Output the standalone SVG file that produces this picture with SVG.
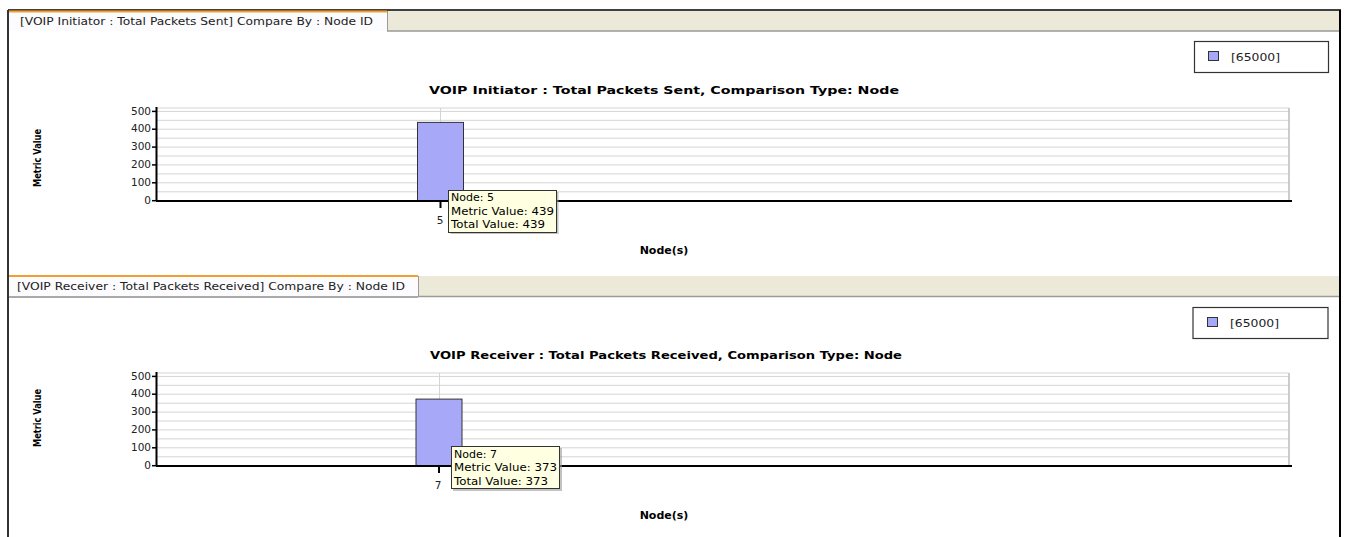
<svg xmlns="http://www.w3.org/2000/svg" width="1352" height="537" viewBox="0 0 1352 537">
<style>
.tabtxt{font-family:"DejaVu Sans","Liberation Sans",sans-serif;font-size:11px;fill:#222}
.title{font-family:"DejaVu Sans","Liberation Sans",sans-serif;font-size:11px;font-weight:bold;fill:#000}
.axl{font-family:"DejaVu Sans","Liberation Sans",sans-serif;font-size:11px;font-weight:bold;fill:#000}
.tick{font-family:"DejaVu Sans","Liberation Sans",sans-serif;font-size:10.5px;fill:#222}
.leg{font-family:"DejaVu Sans","Liberation Sans",sans-serif;font-size:11px;fill:#222}
.tip{font-family:"DejaVu Sans","Liberation Sans",sans-serif;font-size:11px;fill:#000}
.grid{stroke:#d4d4d4;stroke-width:1;fill:none}
.axis{stroke:#000;stroke-width:2;fill:none}
.bar{fill:#a8a8f8;stroke:#333;stroke-width:1}
.tipbox{fill:#ffffe1;stroke:#333;stroke-width:1}
.shadow{fill:#999;opacity:0.6}
.legend{fill:#fff;stroke:#333;stroke-width:1.2}
.tabbar{fill:#ece9d8}
</style>
<rect x="0" y="0" width="1352" height="537" fill="#fff"/>
<!-- frame -->
<line x1="8" y1="10" x2="1341" y2="10" stroke="#000" stroke-width="1.5"/>
<line x1="8" y1="10" x2="8" y2="537" stroke="#333" stroke-width="2"/>
<line x1="1340" y1="10" x2="1340" y2="537" stroke="#000" stroke-width="2"/>

<g id="panel1">
  <rect class="tabbar" x="387" y="11" width="952" height="20"/>
  <line x1="387" y1="31" x2="1339" y2="31" stroke="#9a9a9a" stroke-width="1.5"/>
  <rect x="9" y="11" width="378" height="20" fill="#fcfcfe"/>
  <line x1="9" y1="11.5" x2="387" y2="11.5" stroke="#f0a030" stroke-width="2"/>
  <line x1="387.5" y1="11" x2="387.5" y2="31" stroke="#9a9a9a" stroke-width="1"/>
  <text class="tabtxt" x="20" y="25" textLength="353" lengthAdjust="spacingAndGlyphs">[VOIP Initiator :  Total Packets Sent] Compare By : Node ID</text>
  <g id="legend1">
    <rect class="legend" x="1194.5" y="41.5" width="134" height="31"/>
    <rect class="bar" x="1208.5" y="51.5" width="10" height="9"/>
    <text class="leg" x="1231" y="61" textLength="49" lengthAdjust="spacingAndGlyphs">[65000]</text>
  </g>
  <text class="title" x="664" y="94" text-anchor="middle" textLength="470" lengthAdjust="spacingAndGlyphs">VOIP Initiator :  Total Packets Sent, Comparison Type: Node</text>
  <g id="chart1">
    <g class="grid">
      <line x1="157" y1="108" x2="1289" y2="108"/>
      <line x1="157" y1="111.4" x2="1289" y2="111.4"/>
      <line x1="157" y1="120.3" x2="1289" y2="120.3"/>
      <line x1="157" y1="129.2" x2="1289" y2="129.2"/>
      <line x1="157" y1="138.2" x2="1289" y2="138.2"/>
      <line x1="157" y1="147.1" x2="1289" y2="147.1"/>
      <line x1="157" y1="156" x2="1289" y2="156"/>
      <line x1="157" y1="164.9" x2="1289" y2="164.9"/>
      <line x1="157" y1="173.9" x2="1289" y2="173.9"/>
      <line x1="157" y1="182.8" x2="1289" y2="182.8"/>
      <line x1="157" y1="191.8" x2="1289" y2="191.8"/>
      <line x1="440.5" y1="108" x2="440.5" y2="200"/>
      <line x1="1289" y1="108" x2="1289" y2="200" stroke="#bbb" stroke-width="1.5"/>
    </g>
    <rect class="bar" x="417.5" y="122.4" width="46" height="78.3"/>
    <path class="axis" d="M156.5 107 V201 M156 201 H1292"/>
    <g stroke="#000" stroke-width="1.5">
      <line x1="152" y1="200.7" x2="156" y2="200.7"/>
      <line x1="152" y1="182.8" x2="156" y2="182.8"/>
      <line x1="152" y1="164.9" x2="156" y2="164.9"/>
      <line x1="152" y1="147.1" x2="156" y2="147.1"/>
      <line x1="152" y1="129.2" x2="156" y2="129.2"/>
      <line x1="152" y1="111.4" x2="156" y2="111.4"/>
      <line x1="440.5" y1="202" x2="440.5" y2="208" stroke-width="2"/>
    </g>
    <g class="tick" text-anchor="end">
      <text x="151" y="204">0</text>
      <text x="151" y="186">100</text>
      <text x="151" y="168">200</text>
      <text x="151" y="150">300</text>
      <text x="151" y="132">400</text>
      <text x="151" y="114.5">500</text>
    </g>
    <text class="tick" x="440" y="224" text-anchor="middle">5</text>
    <text class="axl" transform="translate(41 158) rotate(-90)" text-anchor="middle" textLength="58" lengthAdjust="spacingAndGlyphs">Metric Value</text>
    <text class="axl" x="664" y="254" text-anchor="middle">Node(s)</text>
  </g>
  <g id="tooltip1">
    <rect class="shadow" x="450.5" y="192" width="108" height="42"/>
    <rect class="tipbox" x="448.5" y="190.5" width="108" height="42"/>
    <text class="tip" x="451" y="201">Node: 5</text>
    <text class="tip" x="451" y="214.5" textLength="103" lengthAdjust="spacingAndGlyphs">Metric Value: 439</text>
    <text class="tip" x="451" y="228" textLength="94" lengthAdjust="spacingAndGlyphs">Total Value: 439</text>
  </g>
</g>

<g id="panel2">
  <rect class="tabbar" x="418" y="276" width="921" height="20"/>
  <line x1="418" y1="296.5" x2="1339" y2="296.5" stroke="#9a9a9a" stroke-width="1.5"/>
  <rect x="9" y="276" width="409" height="20" fill="#fcfcfe"/>
  <line x1="9" y1="276" x2="418" y2="276" stroke="#f0a030" stroke-width="2"/>
  <line x1="418.5" y1="276" x2="418.5" y2="296" stroke="#9a9a9a" stroke-width="1"/>
  <line x1="9" y1="297" x2="418" y2="297" stroke="#555" stroke-width="1"/>
  <text class="tabtxt" x="17" y="289.5" textLength="388" lengthAdjust="spacingAndGlyphs">[VOIP Receiver :  Total Packets Received] Compare By : Node ID</text>
  <g id="legend2">
    <rect class="legend" x="1193" y="307.5" width="135" height="31"/>
    <rect class="bar" x="1207.5" y="317.5" width="10" height="9"/>
    <text class="leg" x="1230" y="327" textLength="49" lengthAdjust="spacingAndGlyphs">[65000]</text>
  </g>
  <text class="title" x="666" y="359" text-anchor="middle" textLength="472" lengthAdjust="spacingAndGlyphs">VOIP Receiver :  Total Packets Received, Comparison Type: Node</text>
  <g id="chart2" transform="translate(0 265)">
    <g class="grid">
      <line x1="157" y1="108" x2="1289" y2="108"/>
      <line x1="157" y1="111.4" x2="1289" y2="111.4"/>
      <line x1="157" y1="120.3" x2="1289" y2="120.3"/>
      <line x1="157" y1="129.2" x2="1289" y2="129.2"/>
      <line x1="157" y1="138.2" x2="1289" y2="138.2"/>
      <line x1="157" y1="147.1" x2="1289" y2="147.1"/>
      <line x1="157" y1="156" x2="1289" y2="156"/>
      <line x1="157" y1="164.9" x2="1289" y2="164.9"/>
      <line x1="157" y1="173.9" x2="1289" y2="173.9"/>
      <line x1="157" y1="182.8" x2="1289" y2="182.8"/>
      <line x1="157" y1="191.8" x2="1289" y2="191.8"/>
      <line x1="439.5" y1="108" x2="439.5" y2="200"/>
      <line x1="1289" y1="108" x2="1289" y2="200" stroke="#bbb" stroke-width="1.5"/>
    </g>
    <rect class="bar" x="416" y="134.1" width="46" height="66.6"/>
    <path class="axis" d="M156.5 107 V201 M156 201 H1292"/>
    <g stroke="#000" stroke-width="1.5">
      <line x1="152" y1="200.7" x2="156" y2="200.7"/>
      <line x1="152" y1="182.8" x2="156" y2="182.8"/>
      <line x1="152" y1="164.9" x2="156" y2="164.9"/>
      <line x1="152" y1="147.1" x2="156" y2="147.1"/>
      <line x1="152" y1="129.2" x2="156" y2="129.2"/>
      <line x1="152" y1="111.4" x2="156" y2="111.4"/>
      <line x1="439" y1="202" x2="439" y2="208" stroke-width="2"/>
    </g>
    <g class="tick" text-anchor="end">
      <text x="151" y="204">0</text>
      <text x="151" y="186">100</text>
      <text x="151" y="168">200</text>
      <text x="151" y="150">300</text>
      <text x="151" y="132">400</text>
      <text x="151" y="114.5">500</text>
    </g>
    <text class="tick" x="438" y="224" text-anchor="middle">7</text>
    <text class="axl" transform="translate(41 153) rotate(-90)" text-anchor="middle" textLength="58" lengthAdjust="spacingAndGlyphs">Metric Value</text>
    <text class="axl" x="664" y="254" text-anchor="middle">Node(s)</text>
  </g>
  <g id="tooltip2">
    <rect class="shadow" x="453" y="448" width="109" height="43"/>
    <rect class="tipbox" x="451.5" y="446.5" width="108" height="42"/>
    <text class="tip" x="454" y="457.5">Node: 7</text>
    <text class="tip" x="454" y="471" textLength="103" lengthAdjust="spacingAndGlyphs">Metric Value: 373</text>
    <text class="tip" x="454" y="484.5" textLength="94" lengthAdjust="spacingAndGlyphs">Total Value: 373</text>
  </g>
</g>
</svg>
